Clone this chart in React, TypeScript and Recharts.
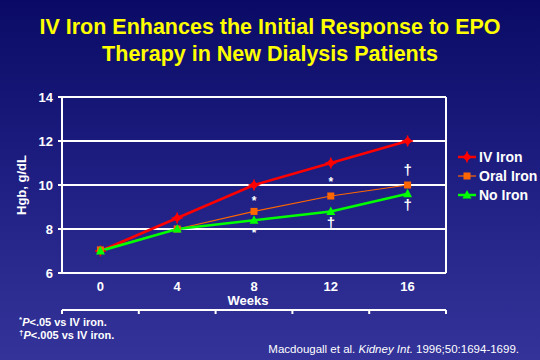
import React from 'react'
import {
  CartesianGrid,
  ComposedChart,
  Legend,
  Line,
  ReferenceLine,
  Scatter,
  XAxis,
  YAxis,
} from 'recharts'

const weeks = [0, 4, 8, 12, 16]
const ivIron = [7.0, 8.5, 10.0, 11.0, 12.0]
const oralIron = [7.05, 8.0, 8.8, 9.5, 10.0]
const noIron = [7.0, 8.0, 8.4, 8.8, 9.6]

const weekTicks = [0, 4, 8, 12, 16]
const weekBounds = [-2, 2, 6, 10, 14, 18]
const hgbTicks = [6, 8, 10, 12, 14]

// significance marks drawn above / below the points
const markWeeks = [8, 8, 12, 12, 16, 16]
const markValues = [9.4, 7.95, 10.25, 8.27, 10.64, 9.08]
const markSymbols = ['*', '*', '*', '\u2020', '\u2020', '\u2020']

const seriesNames = ['IV Iron', 'Oral Iron', 'No Iron']
const seriesKeys = ['iv', 'oral', 'none']
const seriesColors = ['#ff0000', '#ff6600', '#00ff00']
const seriesWidths = [2.5, 1.2, 2.5]

const data = weeks.map((w, i) => ({ week: w, iv: ivIron[i], oral: oralIron[i], none: noIron[i] }))
const marks = markWeeks.map((w, i) => ({ week: w, mark: markValues[i], sym: markSymbols[i] }))

const FONT = '"Liberation Sans", Arial, Helvetica, sans-serif'

function Marker({ kind, cx, cy, color }: { kind: number; cx: number; cy: number; color: string }) {
  if (kind === 0) {
    const r = 4.5
    return (
      <g>
        <polygon points={`${cx},${cy - r} ${cx + r},${cy} ${cx},${cy + r} ${cx - r},${cy}`} fill={color} />
        <line x1={cx - r - 1} y1={cy} x2={cx + r + 1} y2={cy} stroke={color} strokeWidth={1.5} />
        <line x1={cx} y1={cy - r - 1} x2={cx} y2={cy + r + 1} stroke={color} strokeWidth={1.5} />
      </g>
    )
  }
  if (kind === 1) {
    return <rect x={cx - 3.5} y={cy - 3.5} width={7} height={7} fill={color} />
  }
  return <polygon points={`${cx},${cy - 5} ${cx + 4.5},${cy + 3.5} ${cx - 4.5},${cy + 3.5}`} fill={color} />
}

function dotFor(kind: number) {
  return (p: any) => <Marker key={`${kind}-${p.index}`} kind={kind} cx={p.cx} cy={p.cy} color={seriesColors[kind]} />
}

function MarkShape(p: any) {
  const star = p.payload.sym === '*'
  const fs = star ? 12 : 15
  return (
    <text
      x={p.cx}
      y={p.cy + (star ? 0.55 : 0.3) * fs}
      textAnchor="middle"
      fill="#ffffff"
      fontSize={fs}
      fontWeight="bold"
      fontFamily={FONT}
    >
      {p.payload.sym}
    </text>
  )
}

function LegendBox() {
  return (
    <div style={{ fontFamily: FONT, fontWeight: 'bold', fontSize: 14, color: '#fff' }}>
      {seriesNames.map((n, i) => (
        <div key={n} style={{ display: 'flex', alignItems: 'center', height: 19 }}>
          <svg width={20} height={12} style={{ marginRight: 2 }}>
            <line x1={1} y1={6} x2={19} y2={6} stroke={seriesColors[i]} strokeWidth={seriesWidths[i]} />
            <Marker kind={i} cx={10} cy={6} color={seriesColors[i]} />
          </svg>
          <span>{n}</span>
        </div>
      ))}
    </div>
  )
}

const axisTick = { fill: '#ffffff', fontSize: 13, fontWeight: 'bold', fontFamily: FONT }
const supStyle: React.CSSProperties = { fontSize: 8, verticalAlign: 'baseline', position: 'relative', top: -4, lineHeight: 0 }

export default function App() {
  return (
    <div
      style={{
        position: 'absolute',
        left: 0,
        top: 0,
        width: 540,
        height: 360,
        overflow: 'hidden',
        background: 'linear-gradient(to bottom, #0a0a66 0%, #1f1f83 50%, #333399 100%)',
        fontFamily: FONT,
      }}
    >
      <div
        style={{
          position: 'absolute',
          top: 14,
          left: 0,
          width: 540,
          textAlign: 'center',
          color: '#ffff00',
          fontWeight: 'bold',
          fontSize: 21.5,
          lineHeight: '26.5px',
        }}
      >
        IV Iron Enhances the Initial Response to EPO
        <br />
        Therapy in New Dialysis Patients
      </div>

      <div style={{ position: 'absolute', left: 0, top: 0 }}>
        <ComposedChart
          width={540}
          height={360}
          data={data}
          margin={{ top: 97, right: 10, left: 0, bottom: 44 }}
        >
          <CartesianGrid horizontal vertical={false} stroke="#ffffff" strokeWidth={2} xAxisId="marks" />
          <XAxis
            xAxisId="marks"
            dataKey="week"
            type="number"
            domain={[-2, 18]}
            ticks={weekBounds}
            tick={() => <g />}
            tickSize={4}
            height={6}
            axisLine={{ stroke: '#ffffff', strokeWidth: 2 }}
            tickLine={{ stroke: '#ffffff', strokeWidth: 2 }}
          />
          <XAxis
            xAxisId="lab"
            dataKey="week"
            type="number"
            domain={[-2, 18]}
            ticks={weekTicks}
            tick={axisTick}
            tickSize={0}
            tickMargin={9}
            height={37}
            axisLine={false}
            tickLine={false}
            label={{
              value: 'Weeks',
              position: 'insideBottom',
              offset: 5,
              dx: -6,
              fill: '#ffffff',
              fontSize: 13,
              fontWeight: 'bold',
              fontFamily: FONT,
            }}
          />
          <YAxis
            domain={[6, 14]}
            ticks={hgbTicks}
            width={62}
            tick={axisTick}
            tickSize={4}
            tickMargin={5}
            axisLine={{ stroke: '#ffffff', strokeWidth: 2 }}
            tickLine={{ stroke: '#ffffff', strokeWidth: 2 }}
            label={{
              value: 'Hgb, g/dL',
              angle: -90,
              position: 'insideLeft',
              offset: 21,
              fill: '#ffffff',
              fontSize: 13,
              fontWeight: 'bold',
              fontFamily: FONT,
              style: { textAnchor: 'middle' },
            }}
          />
          <ReferenceLine xAxisId="marks" x={18} stroke="#ffffff" strokeWidth={2} />
          {seriesKeys.map((k, i) => (
            <Line
              key={k}
              xAxisId="marks"
              dataKey={k}
              name={seriesNames[i]}
              stroke={seriesColors[i]}
              strokeWidth={seriesWidths[i]}
              dot={dotFor(i)}
              activeDot={false}
              isAnimationActive={false}
            />
          ))}
          <Scatter
            xAxisId="lab"
            data={marks}
            dataKey="mark"
            shape={MarkShape}
            legendType="none"
            isAnimationActive={false}
          />
          <Legend
            layout="vertical"
            align="right"
            verticalAlign="middle"
            content={() => <LegendBox />}
            wrapperStyle={{ width: 84, left: 457, top: 147 }}
          />
        </ComposedChart>
      </div>

      <div
        style={{
          position: 'absolute',
          left: 19,
          top: 316,
          color: '#ffffff',
          fontWeight: 'bold',
          fontSize: 11,
          lineHeight: '13px',
        }}
      >
        <div>
          <span style={supStyle}>*</span>
          <i>P</i>&lt;.05 vs IV iron.
        </div>
        <div>
          <span style={supStyle}>{'\u2020'}</span>
          <i>P</i>&lt;.005 vs IV iron.
        </div>
      </div>

      <div
        style={{
          position: 'absolute',
          right: 21,
          top: 342,
          color: '#ffffff',
          fontSize: 11.5,
          lineHeight: '14px',
          whiteSpace: 'nowrap',
        }}
      >
        Macdougall et al. <i>Kidney Int.</i> 1996;50:1694-1699.
      </div>
    </div>
  )
}
